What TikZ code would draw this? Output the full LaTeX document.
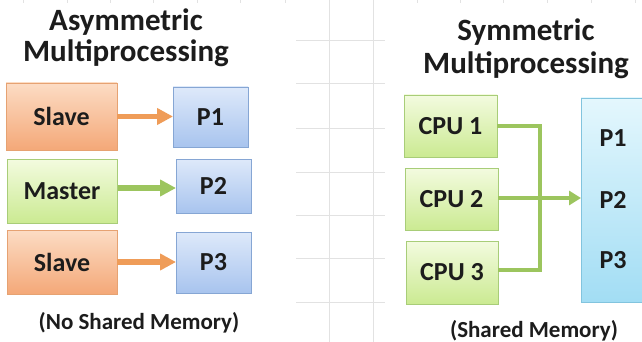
\documentclass[tikz,border=0pt]{standalone}
\usepackage{fontspec}
\setmainfont{Carlito}
\usetikzlibrary{arrows.meta}

\definecolor{inkc}{HTML}{1C1C1C}
\definecolor{gridc}{HTML}{E2E2E2}
\definecolor{orgtop}{HTML}{FCDCC4}
\definecolor{orgbot}{HTML}{F4A878}
\definecolor{orgbrd}{HTML}{E6A272}
\definecolor{blutop}{HTML}{DEE9FA}
\definecolor{blubot}{HTML}{A8C4EE}
\definecolor{blubrd}{HTML}{86A6D4}
\definecolor{grntop}{HTML}{F3FBDF}
\definecolor{grnbot}{HTML}{CBEA92}
\definecolor{grnbrd}{HTML}{A8CD78}
\definecolor{cyntop}{HTML}{E4F7FD}
\definecolor{cynbot}{HTML}{A2DDF4}
\definecolor{cynbrd}{HTML}{82C4DE}
\definecolor{orgarrow}{HTML}{EF9C58}
\definecolor{grnarrow}{HTML}{9CC55E}

\tikzset{
  title/.style={font=\bfseries\fontsize{31}{31}\selectfont, text=inkc, anchor=base, inner sep=0pt},
  caption/.style={font=\bfseries\fontsize{23}{23}\selectfont, text=inkc, anchor=base, inner sep=0pt},
  boxlabel/.style={font=\bfseries\fontsize{26}{26}\selectfont, text=inkc, inner sep=0pt},
  box/.style={draw, line width=0.8pt, inner sep=0pt},
  orangebox/.style={box, draw=orgbrd, top color=orgtop, bottom color=orgbot},
  bluebox/.style={box, draw=blubrd, top color=blutop, bottom color=blubot},
  greenbox/.style={box, draw=grnbrd, top color=grntop, bottom color=grnbot},
  memorybox/.style={box, draw=cynbrd, top color=cyntop, bottom color=cynbot},
  orangearrow/.style={draw=orgarrow, line width=5.5pt, -{Triangle[length=16pt,width=16pt]}},
  greenarrow/.style={draw=grnarrow, line width=5.5pt, -{Triangle[length=16pt,width=16pt]}},
  busline/.style={draw=grnarrow, line width=3.5pt},
  gridline/.style={draw=gridc, line width=0.8pt},
}

\begin{document}
\begin{tikzpicture}[x=1pt, y=-1pt]
  \useasboundingbox[fill=white] (0,0) rectangle (642,342);
  \clip (0,0) rectangle (642,342);

  % faint worksheet grid between the two diagrams
  \foreach \gx in {329,373} \draw[gridline] (\gx,0) -- (\gx,342);
  \foreach \gy in {40,83,128,172,215,258,302} \draw[gridline] (296,\gy) -- (385,\gy);
  \foreach \gx in {23,67,110,153,197,240,285,417,460,503,547,591,635}
    \draw[gridline] (\gx,0) -- (\gx,3);

  % ---- asymmetric multiprocessing ----
  \node[title] (atitleA) at (126,31) {Asymmetric};
  \node[title] (atitleB) at (126,62) {Multiprocessing};

  \path[orangebox] (6,83) rectangle (117,150);
  \node[boxlabel] (slaveA) at (61.5,116.5) {Slave};
  \coordinate (slaveAr) at (117,116.5);
  \path[greenbox] (7,159) rectangle (117,223);
  \node[boxlabel] (master) at (62,191) {Master};
  \coordinate (masterr) at (118,188);
  \path[orangebox] (7,230) rectangle (117,294);
  \node[boxlabel] (slaveB) at (62,262) {Slave};
  \coordinate (slaveBr) at (117,262);

  \path[bluebox] (173,87) rectangle (248,147);
  \node[boxlabel] (pA) at (210.5,117) {P1};
  \coordinate (pAl) at (173,116.5);
  \path[bluebox] (176,159) rectangle (251,213);
  \node[boxlabel] (pB) at (213.5,186) {P2};
  \coordinate (pBl) at (176,188);
  \path[bluebox] (176,232) rectangle (251,293);
  \node[boxlabel] (pC) at (213.5,262.5) {P3};
  \coordinate (pCl) at (176,262);

  \draw[orangearrow] (slaveAr) -- (pAl);
  \draw[greenarrow] (masterr) -- (pBl);
  \draw[orangearrow] (slaveBr) -- (pCl);

  \node[caption] (nomem) at (139,329) {(No Shared Memory)};

  % ---- symmetric multiprocessing ----
  \node[title] (stitleA) at (526,41) {Symmetric};
  \node[title] (stitleB) at (526,74) {Multiprocessing};

  \path[greenbox] (404,95) rectangle (497,157);
  \node[boxlabel] (cpuA) at (450.5,126) {CPU 1};
  \coordinate (cpuAr) at (497,126);
  \path[greenbox] (405,168) rectangle (498,230);
  \node[boxlabel] (cpuB) at (451.5,199) {CPU 2};
  \coordinate (cpuBr) at (498,198);
  \path[greenbox] (406,241) rectangle (498,304);
  \node[boxlabel] (cpuC) at (452,272) {CPU 3};
  \coordinate (cpuCr) at (498,270);

  \path[memorybox] (581,98) rectangle (660,302);
  \coordinate (meml) at (581,198);
  \node[boxlabel] (mA) at (613,138) {P1};
  \node[boxlabel] (mB) at (613,200) {P2};
  \node[boxlabel] (mC) at (613,260) {P3};

  \coordinate (bus) at (540,198);
  \draw[busline] (cpuAr) -| (bus) |- (cpuCr);
  \draw[greenarrow, line width=3.5pt, -{Triangle[length=12pt,width=14pt]}] (cpuBr) -- (meml);

  \node[caption] (shmem) at (534,337) {(Shared Memory)};
\end{tikzpicture}
\end{document}
